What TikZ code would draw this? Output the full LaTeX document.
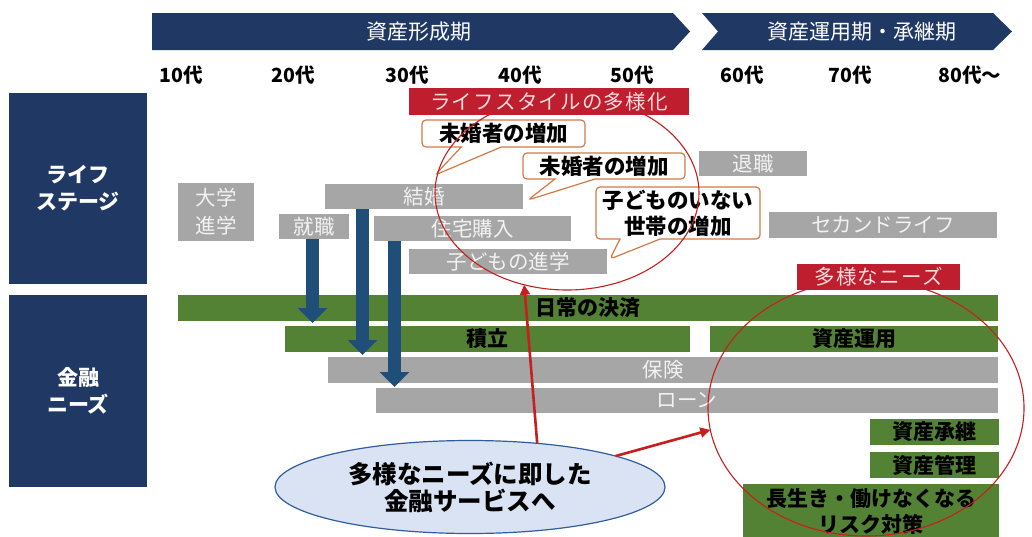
\documentclass[tikz,border=0pt]{standalone}
\usepackage{fontspec}
\setmainfont{Noto Sans CJK JP}
\usetikzlibrary{arrows.meta,shapes.geometric,shapes.callouts}
\definecolor{navy}{RGB}{31,56,100}
\definecolor{gbox}{RGB}{166,166,166}
\definecolor{gtext}{RGB}{242,242,242}
\definecolor{grn}{RGB}{84,130,53}
\definecolor{rbox}{RGB}{190,30,45}
\definecolor{rtext}{RGB}{250,220,220}
\definecolor{rline}{RGB}{200,30,30}
\definecolor{orng}{RGB}{208,122,70}
\definecolor{lblue}{RGB}{218,227,243}
\definecolor{bline}{RGB}{46,94,160}
\definecolor{barrow}{RGB}{31,78,121}
\newcommand\bx[7]{\node[#6, minimum width={#4-#2}, minimum height={#5-#3}] (#1) at ({(#2+#4)/2},{(#3+#5)/2}) {#7};}
\begin{document}
\begin{tikzpicture}[x=1pt,y=-1pt,
  every node/.style={inner sep=0pt, outer sep=0pt, align=center},
  bantext/.style={text=white, font=\fontsize{21}{24}\selectfont},
  age/.style={font=\bfseries\fontsize{19.5}{22}\selectfont},
  navybox/.style={fill=navy, text=white, font=\bfseries\fontsize{21}{27}\selectfont},
  graybox/.style={fill=gbox, text=gtext, font=\fontsize{20.5}{28}\selectfont},
  redbox/.style={fill=rbox, text=rtext, font=\fontsize{20.5}{24}\selectfont\addfontfeature{LetterSpace=6}},
  greenbox/.style={fill=grn, text=black, font=\bfseries\fontsize{21}{26}\selectfont},
  callbox/.style={rectangle callout, draw=orng, line width=1.2pt, fill=white, rounded corners=4pt,
    font=\bfseries\fontsize{21.5}{26}\selectfont, callout pointer width=40pt},
  bluearrow/.style={draw=barrow, line width=13pt, -{Triangle[width=29pt 0 0,length=15pt 0 0]}},
  redarrow/.style={draw=rline, line width=2.6pt, -{Triangle[width=10pt 0 0,length=10pt 0 0]}},
  redring/.style={ellipse, draw=rline, line width=1.1pt},
]
\useasboundingbox (0,0) rectangle (1032,536);
\fill[white] (0,0) rectangle (1032,536);

% banners
\fill[navy] (152,13) -- (673,13) -- (690,31.5) -- (673,50) -- (152,50) -- cycle;
\node[bantext] (b1) at (419,31.5) {資産形成期};
\fill[navy] (702,13) -- (993,13) -- (1012,31.5) -- (993,50) -- (702,50) -- (718,31.5) -- cycle;
\node[bantext] (b2) at (862,31.5) {資産運用期・承継期};

% ages
\node[age] (a10) at (181,75) {10代};
\node[age] (a20) at (293,75) {20代};
\node[age] (a30) at (407,75) {30代};
\node[age] (a40) at (520,75) {40代};
\node[age] (a50) at (632,75) {50代};
\node[age] (a60) at (742,75) {60代};
\node[age] (a70) at (850,75) {70代};
\node[age] (a80) at (970,75) {80代～};

% left headers
\bx{ls}{9}{93}{147}{284}{navybox}{ライフ\\ステージ}
\bx{fn}{9}{295}{147}{487}{navybox}{金融\\ニーズ}

% life stage boxes
\bx{daigaku}{178}{183}{254}{241}{graybox}{大学\\進学}
\bx{shushoku}{279}{214}{349}{239}{graybox}{就職}
\bx{kekkon}{325}{184}{523}{209}{graybox}{結婚}
\bx{jutaku}{374}{216}{571}{241}{graybox}{住宅購入}
\bx{kodomo}{409}{249}{607}{274}{graybox}{子どもの進学}
\bx{taishoku}{699}{151}{807}{176}{graybox}{退職}
\bx{second}{769}{212}{997}{238}{graybox}{セカンドライフ}

% financial needs bars
\bx{nichijo}{178}{295}{998}{321}{greenbox}{日常の決済}
\bx{tsumitate}{285}{326}{690}{352}{greenbox}{積立}
\bx{unyo}{710}{326}{998}{352}{greenbox}{資産運用}
\bx{hoken}{328}{357}{998}{383}{graybox}{保険}
\bx{loan}{376}{388}{998}{413}{graybox}{ローン}
\bx{shokei}{870}{419}{999}{445}{greenbox}{資産承継}
\bx{kanri}{870}{452}{999}{478}{greenbox}{資産管理}
\bx{risk}{743}{484}{999}{540}{greenbox}{長生き・働けなくなる\\リスク対策}

% blue arrows
\coordinate (t1) at (312.5,323);
\coordinate (t2) at (362.5,355);
\coordinate (t3) at (394.5,387);
\draw[bluearrow] (t1 |- shushoku.south) -- (t1);
\draw[bluearrow] (t2 |- kekkon.south) -- (t2);
\draw[bluearrow] (t3 |- jutaku.south) -- (t3);

% callouts
\node[callbox, minimum width=163pt, minimum height=27pt, callout absolute pointer={(435,175)}] (c1) at (503.5,133.5) {未婚者の増加};
\node[callbox, minimum width=162pt, minimum height=26pt, callout absolute pointer={(528,200)}] (c2) at (604,166) {未婚者の増加};
\node[callbox, minimum width=164pt, minimum height=52pt, callout absolute pointer={(610,259)}] (c3) at (678,213) {子どものいない\\世帯の増加};

% red rings
\node[redring, minimum width=264pt, minimum height=194pt] (e1) at (567,193) {};
\node[redring, minimum width=316pt, minimum height=256pt] (e2) at (866,408) {};

% red label boxes
\bx{lifestyle}{409}{88}{689}{115}{redbox}{ライフスタイルの多様化}
\bx{needs}{797}{264}{960}{290}{redbox}{多様なニーズ}

% blue ellipse
\node[ellipse, draw=bline, line width=1.2pt, fill=lblue, minimum width=390pt, minimum height=93pt,
  font=\bfseries\fontsize{24.5}{27}\selectfont] (be) at (470,487) {多様なニーズに即した\\金融サービスへ};

% red arrows
\draw[redarrow] (be.33) -- (e1.245);
\draw[redarrow] (be.12) -- (e2.188);
\end{tikzpicture}
\end{document}
